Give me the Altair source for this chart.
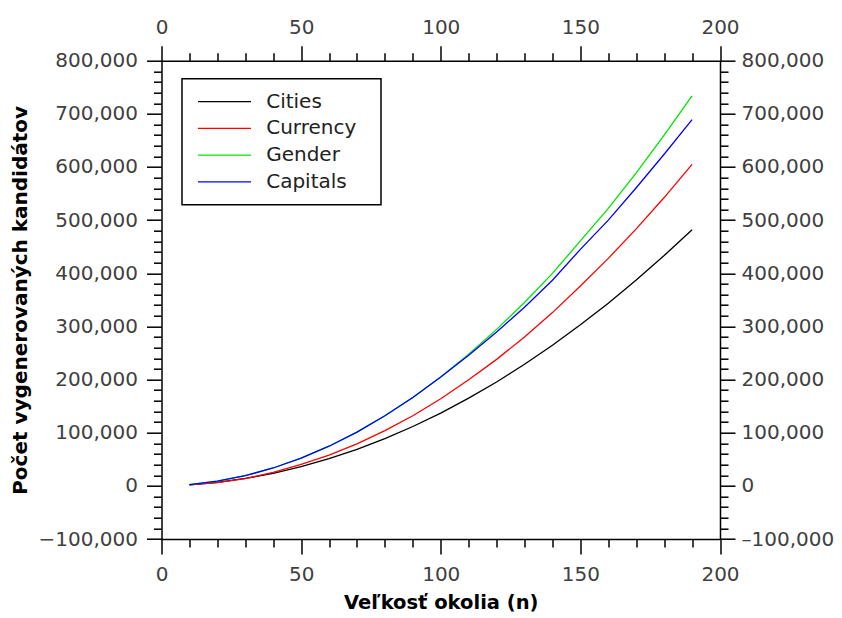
import altair as alt
import pandas as pd

# ---- data ----
n_values = [10, 20, 30, 40, 50, 60, 70, 80, 90, 100,
            110, 120, 130, 140, 150, 160, 170, 180, 190]
cities = [2000, 6700, 13900, 23700, 36100, 51100, 68700, 88900, 111700, 137000,
          165000, 195500, 228700, 264400, 303000, 343600, 387200, 433300, 482000]
currency = [1800, 6000, 13500, 25500, 40500, 58000, 79000, 104000, 132000, 164000,
            199500, 238000, 280000, 326000, 376000, 428000, 483500, 542500, 605000]
gender = [2400, 8800, 19200, 33600, 52100, 74600, 101200, 131800, 166400, 205000,
          247700, 294400, 345100, 399800, 461000, 522000, 589000, 660000, 734000]
capitals = [2400, 8800, 19200, 33600, 52100, 74600, 101200, 131800, 166400, 205000,
            245700, 289400, 336100, 386800, 445000, 500000, 561000, 624000, 689000]

series_names = ["Cities", "Currency", "Gender", "Capitals"]
series_colors = ["#000000", "#ff0000", "#00e600", "#0000ff"]

x_tick_values = list(range(0, 201, 10))
y_tick_values = list(range(-100000, 800001, 20000))

rows = []
for name, vals in zip(series_names, [cities, currency, gender, capitals]):
    for n, v in zip(n_values, vals):
        rows.append({"n": n, "value": v, "series": name})
df = pd.DataFrame(rows)

FONT = "DejaVu Sans"

x_tick_size = {"condition": {"test": "datum.value % 50 === 0", "value": 15}, "value": 8}
y_tick_size = {"condition": {"test": "datum.value % 100000 === 0", "value": 15}, "value": 8}
x_label_expr = "datum.value % 50 === 0 ? datum.label : ''"
y_label_expr = "datum.value % 100000 === 0 ? datum.label : ''"
y_label_expr_right = "datum.value % 100000 === 0 ? replace(datum.label, '\u2212', '\u2013') : ''"

axis_common = dict(
    domainColor="black", domainWidth=1.5,
    tickColor="black", tickWidth=1.5,
    labelFont=FONT, labelFontSize=20, labelColor="#404040",
    labelOverlap=False, labelFlush=False, labelBound=False,
    titleFont=FONT, titleFontWeight="bold", titleColor="black",
    grid=False,
)

x_scale = alt.Scale(domain=[0, 200], nice=False, zero=False)
y_scale = alt.Scale(domain=[-100000, 800000], nice=False, zero=False)

main = alt.Chart(df).mark_line(strokeWidth=1.3, clip=True).encode(
    x=alt.X("n:Q", scale=x_scale,
            axis=alt.Axis(orient="bottom", values=x_tick_values, tickSize=x_tick_size,
                          labelExpr=x_label_expr, labelPadding=10,
                          title="Veľkosť okolia (n)", titlePadding=9, titleFontSize=19.5,
                          **axis_common)),
    y=alt.Y("value:Q", scale=y_scale,
            axis=alt.Axis(orient="left", values=y_tick_values, tickSize=y_tick_size,
                          labelExpr=y_label_expr, format=",d", labelPadding=9,
                          title="Počet vygenerovaných kandidátov", titlePadding=8,
                          titleFontSize=20, **axis_common)),
    color=alt.Color("series:N",
                    scale=alt.Scale(domain=series_names, range=series_colors),
                    sort=series_names,
                    legend=alt.Legend(orient="none", legendX=20.5, legendY=18, title="|",
                                      titleOrient="right", titleOpacity=0,
                                      titleFontSize=1, titlePadding=12,
                                      symbolType="M-2.65,0H2.65", symbolSize=400,
                                      symbolStrokeWidth=1.3,
                                      labelFont=FONT, labelFontSize=20, labelColor="#222222",
                                      padding=12, rowPadding=5.7,
                                      symbolOffset=19.5, labelOffset=30.7,
                                      strokeColor="black", fillColor="white",
                                      cornerRadius=0)),
    order=alt.Order("series_order:Q"),
).transform_calculate(
    series_order="indexof(['Cities','Currency','Gender','Capitals'], datum.series)"
)

mirror = alt.Chart(df).mark_line(strokeOpacity=0).encode(
    x=alt.X("n:Q", scale=x_scale,
            axis=alt.Axis(orient="top", values=x_tick_values, tickSize=x_tick_size,
                          labelExpr=x_label_expr, labelPadding=8, title=None,
                          **axis_common)),
    y=alt.Y("value:Q", scale=y_scale,
            axis=alt.Axis(orient="right", values=y_tick_values, tickSize=y_tick_size,
                          labelExpr=y_label_expr_right, format=",d", labelPadding=6,
                          title=None, **axis_common)),
    detail="series:N",
)

chart = alt.layer(main, mirror).resolve_scale(
    x="independent", y="independent"
).properties(
    width=558.5, height=478.3,
    autosize=alt.AutoSizeParams(type="none"),
    padding={"left": 153.5, "top": 52.7, "right": 114, "bottom": 77},
    background="white",
).configure_view(stroke=None).configure_legend(strokeWidth=1.5)

chart.save("out.html", embed_options={"renderer": "svg", "actions": False})
